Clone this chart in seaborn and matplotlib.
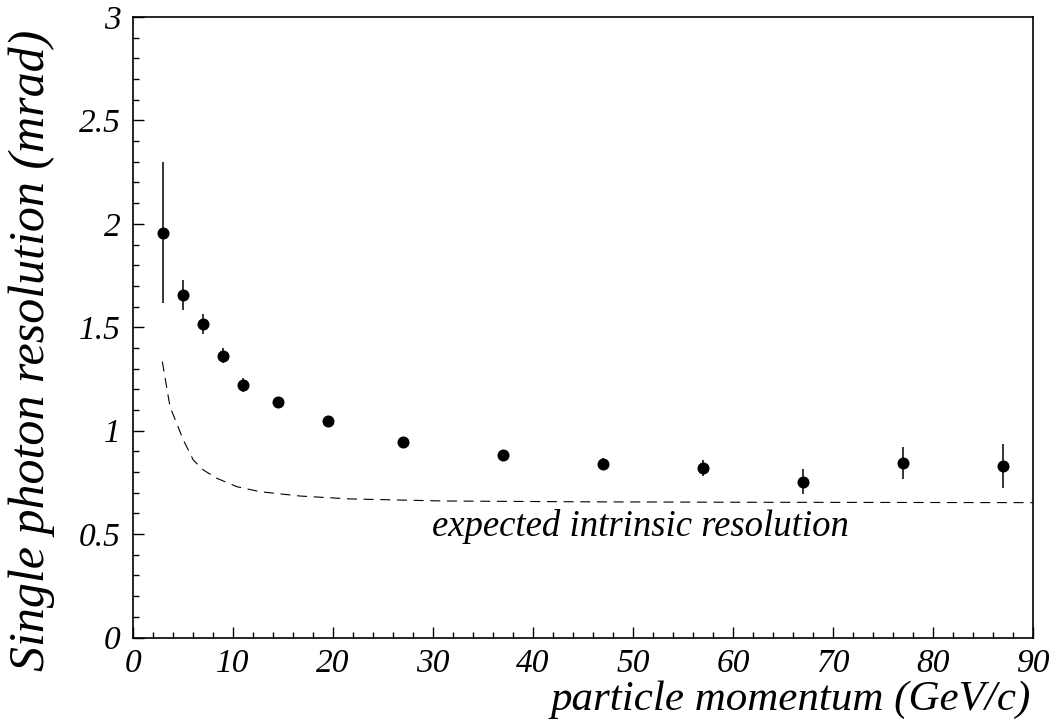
import numpy as np
import pandas as pd
import matplotlib
matplotlib.use("Agg")
import matplotlib.pyplot as plt
import seaborn as sns
from matplotlib.ticker import MultipleLocator

# measured points
momentum = [3, 5, 7, 9, 11, 14.5, 19.5, 27, 37, 47, 57, 67, 77, 87]
resolution = [1.957, 1.654, 1.515, 1.362, 1.221, 1.137, 1.045, 0.944, 0.884, 0.839, 0.820, 0.754, 0.842, 0.829]
res_err = [0.34, 0.073, 0.047, 0.037, 0.036, 0.02, 0.015, 0.015, 0.015, 0.03, 0.04, 0.062, 0.078, 0.105]

# expected intrinsic resolution curve
curve_p = [2.93, 3.7, 5.03, 6.03, 7.03, 8.37, 10.4, 12.7, 16.7, 21.7, 31, 45, 60, 75, 90]
curve_res = [1.334, 1.116, 0.955, 0.858, 0.81, 0.77, 0.729, 0.705, 0.684, 0.67, 0.66, 0.656, 0.654, 0.653, 0.652]

x_ticks = [0, 10, 20, 30, 40, 50, 60, 70, 80, 90]
y_ticks = [0, 0.5, 1, 1.5, 2, 2.5, 3]
y_tick_labels = ["0", "0.5", "1", "1.5", "2", "2.5", "3"]

sns.set_style("ticks")
plt.rcParams['font.family'] = ['Liberation Serif', 'DejaVu Serif']
plt.rcParams['text.color'] = 'black'
plt.rcParams['axes.labelcolor'] = 'black'
plt.rcParams['xtick.color'] = 'black'
plt.rcParams['ytick.color'] = 'black'
plt.rcParams['axes.edgecolor'] = 'black'

fig = plt.figure(figsize=(10.54, 7.28), dpi=100)
ax = fig.add_axes([133/1054, 1 - 637.5/728, 900/1054, (637.5 - 17)/728])

df_pts = pd.DataFrame({"p": momentum, "r": resolution})
df_curve = pd.DataFrame({"p": curve_p, "r": curve_res})

sns.lineplot(data=df_curve, x="p", y="r", ax=ax, color="black", lw=0.8,
             linestyle=(0, (9, 6)), sort=False)
ax.errorbar(momentum, resolution, yerr=res_err, fmt="none", ecolor="black",
            elinewidth=1.1, capsize=0)
sns.scatterplot(data=df_pts, x="p", y="r", ax=ax, color="black", s=75,
                edgecolor="black", linewidth=0, zorder=5)

ax.set_xlim(0, 90)
ax.set_ylim(0, 3)
ax.xaxis.set_minor_locator(MultipleLocator(2))
ax.yaxis.set_minor_locator(MultipleLocator(0.1))
ax.tick_params(which="both", direction="in", top=False, right=False, width=1,
               color="black", labelcolor="black")
ax.tick_params(which="major", length=8, labelsize=24)
ax.tick_params(axis="x", which="major", pad=8)
ax.tick_params(axis="y", which="major", pad=9)
ax.tick_params(which="minor", length=4)
for s in ax.spines.values():
    s.set_linewidth(1.2)
    s.set_color("black")

ax.set_xticks(x_ticks)
ax.set_xticklabels([str(v) for v in x_ticks], style="italic")
ax.set_yticks(y_ticks)
ax.set_yticklabels(y_tick_labels, style="italic")

ax.set_xlabel("")
ax.set_ylabel("")
fig.text(1031/1054, 1 - 700/728, "particle momentum (GeV/c)", ha="right", va="center",
         fontsize=31, style="italic", color="black")
fig.text(32/1054, 1 - 350/728, "Single photon resolution (mrad)", ha="center", va="center",
         rotation=90, fontsize=36, style="italic", color="black")
fig.text(432/1054, 1 - 527/728, "expected intrinsic resolution",
         ha="left", va="center", fontsize=26.5, style="italic", color="black")

fig.savefig("out.png", dpi=100)
